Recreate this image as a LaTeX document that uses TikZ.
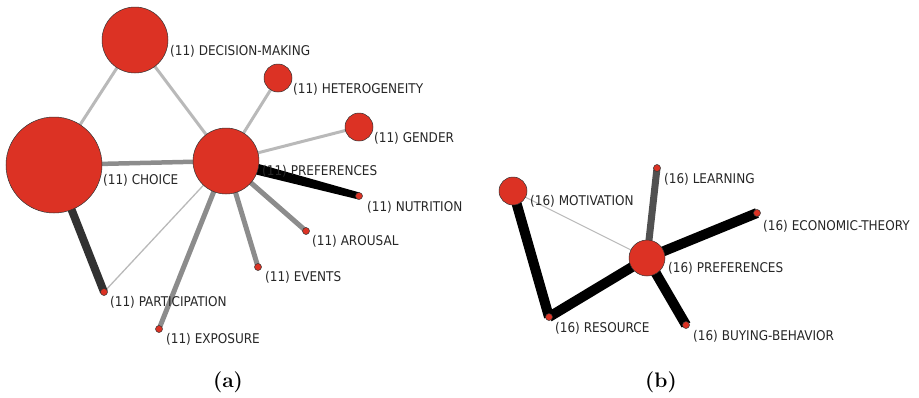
\documentclass[tikz,border=0pt]{standalone}
\usepackage{fontspec}
\newfontfamily\labelfont{DejaVu Sans Condensed}
\usetikzlibrary{backgrounds,calc}
\definecolor{nodered}{RGB}{220,50,36}
\definecolor{edgelight}{RGB}{185,185,185}
\definecolor{edgemid}{RGB}{140,140,140}
\definecolor{edgedark}{RGB}{50,50,50}
\tikzset{
  term/.style={circle,draw=black!80,line width=0.5pt,fill=nodered,inner sep=0pt,minimum size=#1},
  dot/.style={term=7pt},
  lbl/.style={anchor=base west,inner sep=0pt,font=\labelfont\fontsize{13.4}{14}\selectfont,text=black!85},
  subcap/.style={anchor=base,inner sep=0pt,font=\bfseries\fontsize{21}{22}\selectfont},
  light/.style={draw=edgelight,line width=3pt},
  thin/.style={draw=edgelight,line width=1.3pt},
  mid/.style={draw=edgemid,line width=5pt},
  dark/.style={draw=edgedark,line width=8pt},
  heavy/.style={draw=black,line width=10pt},
}
\begin{document}
\begin{tikzpicture}[x=1pt,y=-1pt]
\useasboundingbox (0,0) rectangle (919,397);
% ---- network (a) ----
\node[term=66pt] (dm) at (135,40) {};
\node[term=28pt] (het) at (278,78) {};
\node[term=28pt] (gen) at (359,127) {};
\node[term=96pt] (cho) at (54,165) {};
\node[term=66pt] (pa) at (226,161) {};
\node[dot] (nut) at (359,196) {};
\node[dot] (aro) at (306,231) {};
\node[dot] (eve) at (258,267) {};
\node[dot] (par) at (104,292) {};
\node[dot] (exp) at (159,329) {};
\begin{scope}[on background layer]
  \draw[light] (dm.center) -- (cho.center);
  \draw[light] (dm.center) -- (pa.center);
  \draw[light] (het.center) -- (pa.center);
  \draw[light] (gen.center) -- (pa.center);
  \draw[mid,line width=4.5pt] (cho.center) -- (pa.center);
  \draw[mid] (pa.center) -- (aro.center);
  \draw[mid] (pa.center) -- (eve.center);
  \draw[mid] (pa.center) -- (exp.center);
  \draw[thin] (pa.center) -- (par.center);
  \draw[dark] (cho.center) -- (par.center);
  % tapered heavy edge
  \fill[black] ($(pa.center)!6pt!90:(nut.center)$) -- ($(nut.center)!3.5pt!-90:(pa.center)$)
    -- ($(nut.center)!3.5pt!(pa.center)$) -- ($(nut.center)!3.5pt!90:(pa.center)$)
    -- ($(pa.center)!6pt!-90:(nut.center)$) -- cycle;
\end{scope}
\node[lbl] (ldm) at (170,55) {(11) DECISION-MAKING};
\node[lbl] (lhet) at (293,93) {(11) HETEROGENEITY};
\node[lbl] (lgen) at (374,142) {(11) GENDER};
\node[lbl] (lpa) at (262,175) {(11) PREFERENCES};
\node[lbl] (lcho) at (103,184) {(11) CHOICE};
\node[lbl] (lnut) at (367,211) {(11) NUTRITION};
\node[lbl] (laro) at (312,245) {(11) AROUSAL};
\node[lbl] (leve) at (265,281) {(11) EVENTS};
\node[lbl] (lpar) at (110,306) {(11) PARTICIPATION};
\node[lbl] (lexp) at (166,343) {(11) EXPOSURE};
\node[subcap] (capa) at (228,387) {(a)};
% ---- network (b) ----
\node[term=28pt] (mot) at (513,191) {};
\node[dot] (lea) at (657,168) {};
\node[dot] (eco) at (757,213) {};
\node[term=36pt] (pb) at (647,258) {};
\node[dot] (res) at (549,317) {};
\node[dot] (buy) at (686,325) {};
\begin{scope}[on background layer]
  \draw[thin,line width=1.1pt] (mot.center) -- (pb.center);
  \draw[heavy] (mot.center) -- (res.center);
  \draw[heavy] (res.center) -- (pb.center);
  \draw[dark,draw=edgedark!85,line width=7pt] (lea.center) -- (pb.center);
  \draw[heavy] (eco.center) -- (pb.center);
  \draw[heavy] (buy.center) -- (pb.center);
\end{scope}
\node[lbl] (lmot) at (530,205) {(16) MOTIVATION};
\node[lbl] (llea) at (664,183) {(16) LEARNING};
\node[lbl] (leco) at (763,230) {(16) ECONOMIC-THEORY};
\node[lbl] (lpb) at (668,272) {(16) PREFERENCES};
\node[lbl] (lres) at (555,332) {(16) RESOURCE};
\node[lbl] (lbuy) at (693,340) {(16) BUYING-BEHAVIOR};
\node[subcap] (capb) at (661,387) {(b)};
\end{tikzpicture}
\end{document}
